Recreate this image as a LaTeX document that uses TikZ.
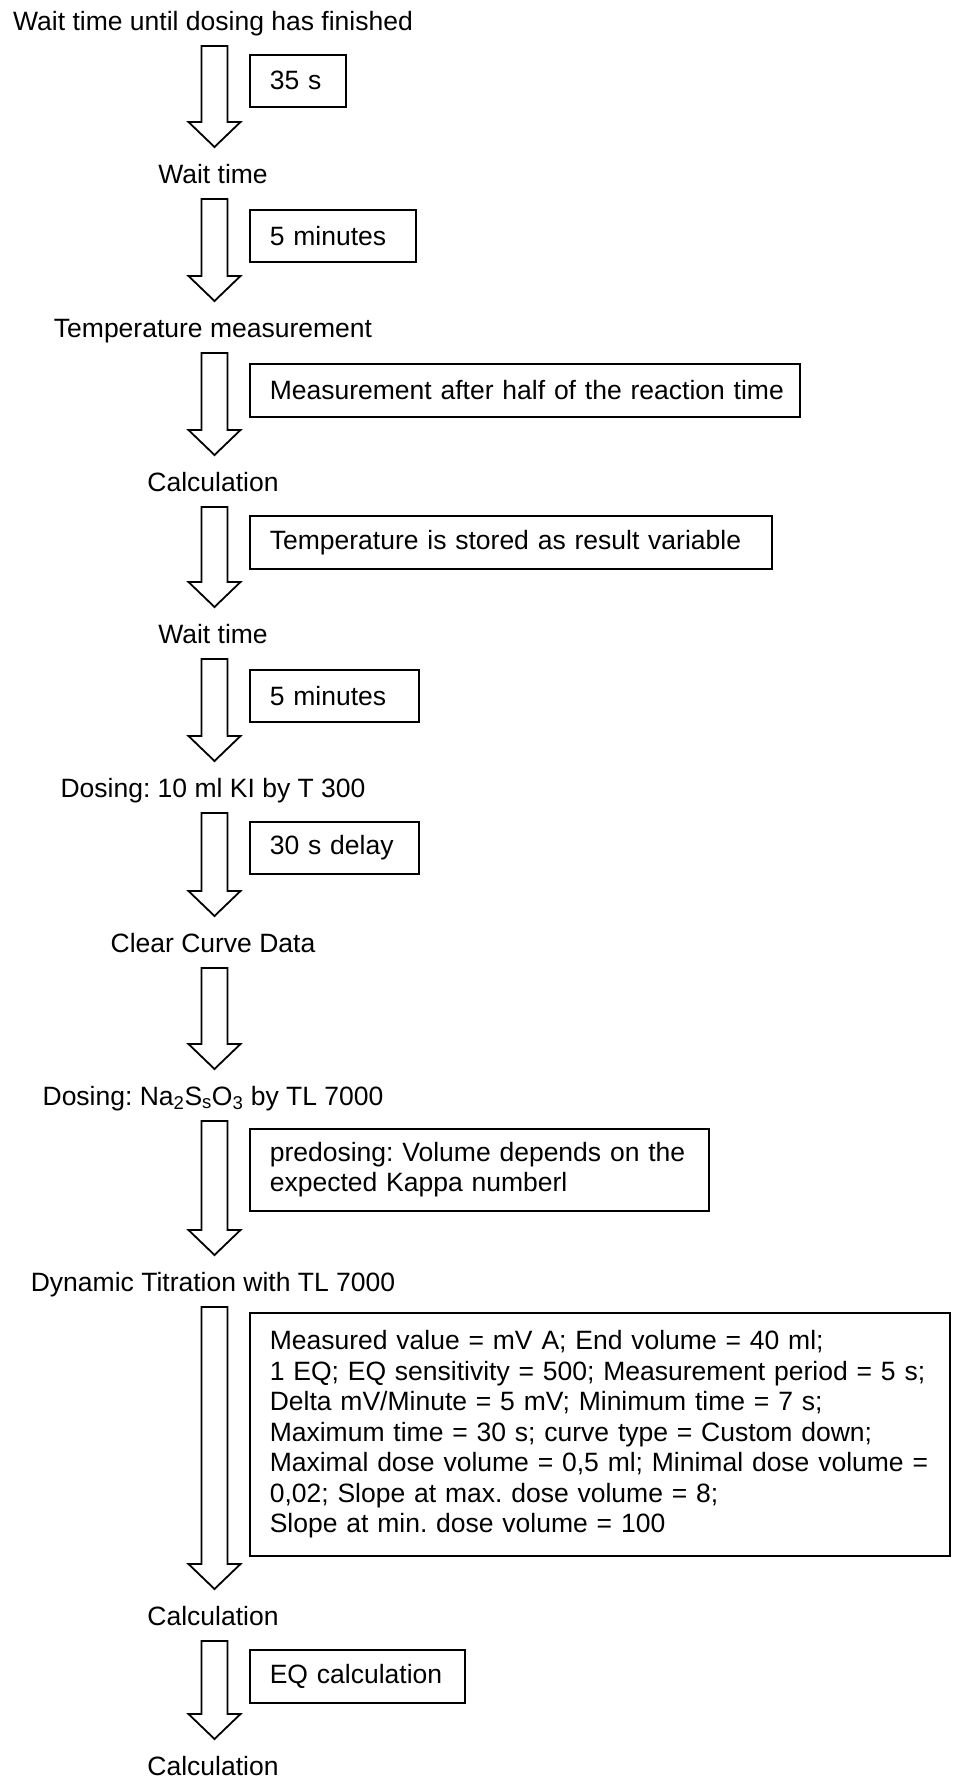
\documentclass[tikz,border=0pt]{standalone}
\usepackage{fontspec}
\setmainfont{Liberation Sans}
\usepackage{tikz}
\usetikzlibrary{calc,positioning}
\frenchspacing

\tikzset{
  stepname/.style={anchor=base, inner sep=0pt, text=black},
  % the parameter box to the right of each arrow
  param/.style={draw=black, line width=1.6pt, anchor=north west, align=left,
    inner xsep=20pt, inner ysep=0pt, text=black},
  % the hollow block arrow, drawn from one step name to the next
  flowdown/.style={draw=black, line width=1.8pt, fill=white, line join=miter,
    to path={let \p1=(\tikztostart.base), \p2=(\tikztotarget.base) in
      (\x1-11.5pt,\y1-16pt) -- (\x1+14.5pt,\y1-16pt) -- (\x1+14.5pt,\y2+61pt)
      -- (\x1+27.5pt,\y2+61pt) -- (\x1+1.5pt,\y2+36pt) -- (\x1-24.5pt,\y2+61pt)
      -- (\x1-11.5pt,\y2+61pt) -- cycle}},
}

\begin{document}
\begin{tikzpicture}[x=1pt,y=-1pt,font=\fontsize{26.5}{30.5}\selectfont]
  \useasboundingbox (0,0) rectangle (956,1780);
  % step names
  \foreach \nm/\yy/\txt in {
      l1/30/{Wait time until dosing has finished},
      l2/183/{Wait time},
      l3/337/{Temperature measurement},
      l4/491/{Calculation},
      l5/643/{Wait time},
      l6/797/{Dosing: 10 ml KI by T 300},
      l7/952/{Clear Curve Data},
      l8/1105/{Dosing: Na\textsubscript{2}S\textsubscript{s}O\textsubscript{3} by TL 7000},
      l9/1291/{Dynamic Titration with TL 7000},
      l10/1625/{Calculation},
      l11/1775/{Calculation}} {
    \node[stepname] (\nm) at (213,\yy) {\txt};
  }
  % arrows between the steps
  \foreach \a/\b in {l1/l2, l2/l3, l3/l4, l4/l5, l5/l6, l6/l7, l7/l8, l8/l9, l9/l10, l10/l11}
    \draw[flowdown] (\a) to (\b);
  % parameters
  \node[param, minimum width=96pt, minimum height=52pt, text width=56pt] (p1) at (249,54) {35 s};
  \node[param, minimum width=166pt, minimum height=52pt, text width=126pt] (p2) at (249,209) {5 minutes};
  \node[param, minimum width=550pt, minimum height=53pt, text width=510pt] (p3) at (249,363)
    {\mbox{Measurement after half of the reaction time}};
  \node[param, minimum width=522pt, minimum height=53pt, text width=482pt] (p4) at (249,515)
    {Temperature is stored as result variable};
  \node[param, minimum width=169pt, minimum height=52pt, text width=129pt] (p5) at (249,669) {5 minutes};
  \node[param, minimum width=169pt, minimum height=52pt, text width=129pt] (p6) at (249,821) {30 s delay};
  \node[param, minimum width=459pt, minimum height=82pt, text width=419pt] (p8) at (249,1128)
    {\mbox{predosing: Volume depends on the}\\expected Kappa numberl};
  \node[param, minimum width=700pt, minimum height=243pt, text width=660pt] (p9) at (249,1312)
    {Measured value = mV A; End volume = 40 ml;\\
     1 EQ; EQ sensitivity = 500; Measurement period = 5 s;\\
     Delta mV/Minute = 5 mV; Minimum time = 7 s;\\
     Maximum time = 30 s; curve type = Custom down;\\
     Maximal dose volume = 0,5 ml; Minimal dose volume =\\
     0,02; Slope at max. dose volume = 8;\\
     Slope at min. dose volume = 100};
  \node[param, minimum width=215pt, minimum height=53pt, text width=175pt] (p10) at (249,1649) {EQ calculation};
\end{tikzpicture}
\end{document}
